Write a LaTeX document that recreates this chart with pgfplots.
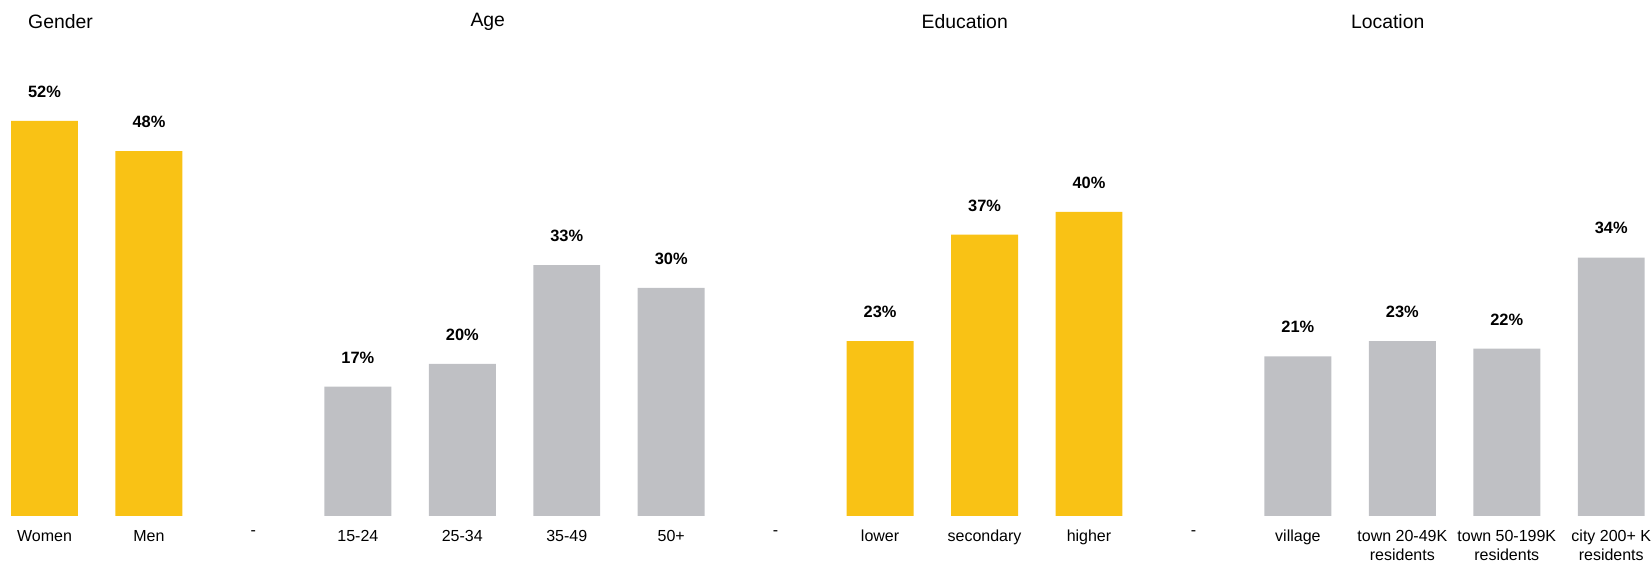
\documentclass[border=0pt]{standalone}
\usepackage{pgfplots}
\pgfplotsset{compat=1.18}
\usepackage{fontspec}
\setmainfont{Liberation Sans}
\definecolor{barY}{HTML}{F9C215}
\definecolor{barG}{HTML}{BFC0C4}
\begin{document}
\begin{tikzpicture}
\begin{axis}[
  x=52.25bp, y=3.8bp,
  xmin=-0.426, xmax=15.37,
  ymin=0, ymax=67.9,
  axis line style={draw=none},
  tick style={draw=none},
  ytick=\empty,
  xtick={0,...,15},
  xticklabels={Women,Men,-,15-24,25-34,35-49,50+,-,lower,secondary,higher,-,village,{town 20-49K\\residents},{town 50-199K\\residents},{city 200+ K\\residents}},
  xticklabel style={align=center, font=\fontsize{8bp}{9.6bp}\selectfont, inner sep=0pt, yshift=-7bp},
  clip=false,
  /pgf/number format/assume math mode=true,
  nodes near coords={\pgfmathprintnumber{\pgfplotspointmeta}\%},
  every node near coord/.append style={font=\fontsize{8.2bp}{9.8bp}\selectfont\bfseries, anchor=south, inner sep=0pt, yshift=11.5bp, text=black},
]
\addplot[ybar, bar width=33.5bp, bar shift=0pt, fill=barY, draw=none] coordinates {
  (0,52) (1,48) (8,23) (9,37) (10,40)
};
\addplot[ybar, bar width=33.5bp, bar shift=0pt, fill=barG, draw=none] coordinates {
  (3,17) (4,20) (5,33) (6,30) (12,21) (13,23) (14,22) (15,34)
};
\node[anchor=west, inner sep=0pt, font=\fontsize{9.7bp}{11bp}\selectfont] at (axis cs:-0.16,65.0) {Gender};
\node[inner sep=0pt, font=\fontsize{9.7bp}{11bp}\selectfont] at (axis cs:4.244,65.0) {Age};
\node[inner sep=0pt, font=\fontsize{9.7bp}{11bp}\selectfont] at (axis cs:8.81,65.0) {Education};
\node[inner sep=0pt, font=\fontsize{9.7bp}{11bp}\selectfont] at (axis cs:12.86,65.0) {Location};
\end{axis}
\end{tikzpicture}
\end{document}
